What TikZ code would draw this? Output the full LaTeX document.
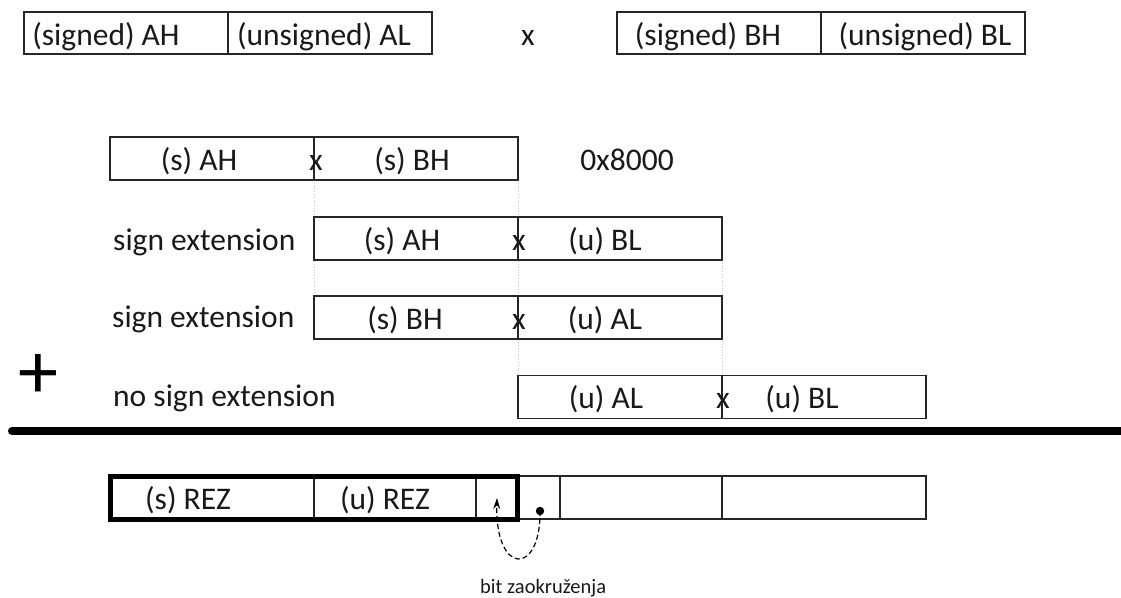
\documentclass[tikz,border=0pt]{standalone}
\usepackage{fontspec}
\setmainfont{Carlito}
\usetikzlibrary{arrows.meta}
\begin{document}
\begin{tikzpicture}[x=1pt,y=-1pt,
  cell/.style={draw=black!85, line width=1.4pt, minimum width=204pt,
    minimum height=43pt, inner sep=0pt, outer sep=0pt},
  lbl/.style={font=\fontsize{31.5}{31.5}\selectfont, inner sep=0pt,
    anchor=base, text=black!90},
  side/.style={lbl, anchor=base west},
  small/.style={font=\fontsize{20.5}{20.5}\selectfont, inner sep=0pt,
    anchor=base west, text=black!90},
  guide/.style={draw=black!22, dotted, line width=0.8pt},
  accu/.style={draw=black, line width=5pt, minimum width=407pt,
    minimum height=43pt, inner sep=0pt, outer sep=0pt}
]
\useasboundingbox (0,0) rectangle (1121,597);

% operand words A and B
\node[cell, minimum height=42pt] (ah) at (126,33) {};
\node[cell, minimum height=42pt] (al) at (330,33) {};
\node[cell, minimum height=42pt] (bh) at (719,33) {};
\node[cell, minimum height=42pt] (bl) at (923,33) {};
\node[lbl] (tah) at (106,45) {(signed) AH};
\node[lbl] (tal) at (324,45) {(unsigned) AL};
\node[lbl] (tx)  at (528,45) {x};
\node[lbl] (tbh) at (708,45) {(signed) BH};
\node[lbl] (tbl) at (925,45) {(unsigned) BL};

% alignment guides between partial products
\draw[guide] (314,180) coordinate (g1a) -- (314,296) coordinate (g1b);
\draw[guide] (518,180) coordinate (g2a) -- (518,376) coordinate (g2b);
\draw[guide] (722,260) coordinate (g3a) -- (722,376) coordinate (g3b);

% partial product AH x BH
\node[cell] (p1a) at (212,158.5) {};
\node[cell] (p1b) at (416,158.5) {};
\node[lbl] at (199,170) {(s) AH};
\node[lbl] at (316,170) {x};
\node[lbl] at (412,170) {(s) BH};
\node[lbl] (offs) at (627,170) {0x8000};

% partial product AH x BL
\node[side] (se1) at (113,250) {sign extension};
\node[cell] (p2a) at (416,238.5) {};
\node[cell] (p2b) at (620,238.5) {};
\node[lbl] at (402,250) {(s) AH};
\node[lbl] at (519,250) {x};
\node[lbl] at (605,250) {(u) BL};

% partial product BH x AL
\node[side] (se2) at (112,327) {sign extension};
\node[cell] (p3a) at (416,317.5) {};
\node[cell] (p3b) at (620,317.5) {};
\node[lbl] at (405,329) {(s) BH};
\node[lbl] at (519,329) {x};
\node[lbl] at (605,329) {(u) AL};

% partial product AL x BL
\node[font=\fontsize{80}{80}\selectfont, inner sep=0pt] (plus) at (38,377) {+};
\node[side] (nse) at (113,406) {no sign extension};
\node[cell] (p4a) at (620,397) {};
\node[cell] (p4b) at (824,397) {};
\node[lbl] at (606,408.5) {(u) AL};
\node[lbl] at (723,408.5) {x};
\node[lbl] at (802,408.5) {(u) BL};

% sum rule
\coordinate (ruleL) at (12,431);
\coordinate (ruleR) at (1130,431);
\draw[line width=8pt, line cap=round] (ruleL) -- (ruleR);

% result register
\node[cell] (r1) at (212,497.5) {};
\node[cell, minimum width=162pt] (r2) at (395,497.5) {};
\node[cell, minimum width=41pt] (r3) at (496.5,497.5) {};
\node[cell, minimum width=43pt] (r4) at (538.5,497.5) {};
\node[cell, minimum width=162pt] (r5) at (641,497.5) {};
\node[cell] (r6) at (824,497.5) {};
\node[accu] (acc) at (313.5,497.5) {};
\node[lbl] at (188,509) {(s) REZ};
\node[lbl] at (385,509) {(u) REZ};

% rounding bit
\coordinate (dot) at (540,511);
\coordinate (tip) at (497,498);
\fill (dot) circle (4.2);
\draw[line width=1.2pt, dash pattern=on 5pt off 3pt,
  -{Stealth[length=11pt,width=7pt]}]
  (dot) .. controls (541,576) and (495,576) .. (tip);
\node[small] (bitlbl) at (480,593) {bit zaokruženja};
\end{tikzpicture}
\end{document}
